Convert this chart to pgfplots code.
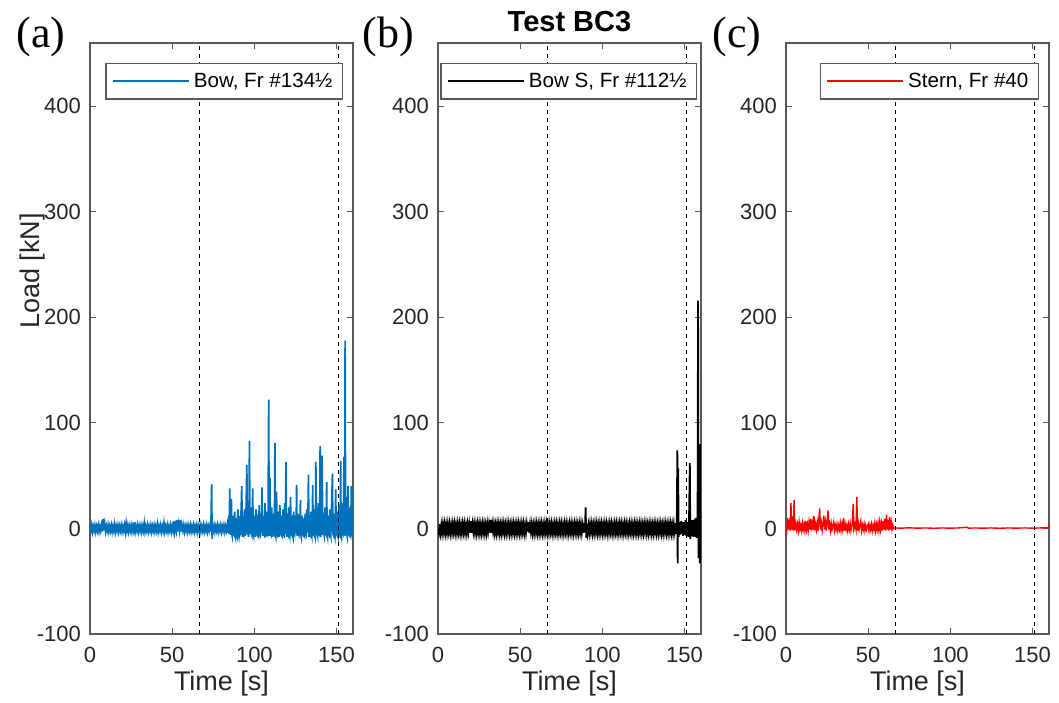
\documentclass[border=0pt]{standalone}
\usepackage{pgfplots}
\pgfplotsset{compat=1.18}
\usepackage{fontspec}
\setmainfont{Liberation Sans}
\newfontfamily\seriffont{Liberation Serif}
\definecolor{mblue}{RGB}{0,114,189}
\definecolor{axgray}{gray}{0.35}
\pgfplotsset{
  panel/.style={
    scale only axis, width=131.5pt, height=295.5pt,
    xmin=0, xmax=160, ymin=-100, ymax=460,
    xtick={0,50,100,150}, ytick={-100,0,100,200,300,400},
    tick align=inside, major tick length=3pt,
    axis line style={draw=axgray, line width=0.6pt},
    tick style={draw=axgray, line width=0.5pt},
    tick label style={font=\fontsize{11}{13}\selectfont, text=black!85},
    /pgf/number format/assume math mode=true,
    label style={font=\fontsize{13.5}{16}\selectfont, text=black!85},
    xlabel={Time [s]},
    xlabel style={at={(axis description cs:0.5,-0.083)}, anchor=center},
    yticklabel style={xshift=-1pt},
    xticklabel style={yshift=-3pt},
    legend style={at={(0.962,0.966)}, anchor=north east, draw=axgray, line width=0.6pt, fill=white,
      font=\fontsize{10.3}{12}\selectfont, inner xsep=3pt, inner ysep=2.5pt, legend cell align=left},
  },
  vdash/.style={draw=black, line width=0.6pt, dash pattern=on 2.2pt off 1.8pt, forget plot},
}
\begin{document}
\begin{tikzpicture}
\useasboundingbox (0,0) rectangle (529.5pt,351pt);
% ---------------- (a)
\begin{axis}[panel, name=A, at={(45pt,34pt)}, anchor=south west,
  legend image code/.code={\draw[draw=mblue, line width=0.9pt] (0pt,0pt) -- (38pt,0pt);},
  ylabel={Load [kN]},
  ylabel style={at={(axis description cs:-0.22,0.614)}, anchor=center}]
\addplot[mblue, line width=0.85pt] coordinates {
(0,1) (0.5,-2) (1,3) (1.5,-3) (2,2) (2.5,-2) (3,3) (3.5,-3) (4,2) (4.5,-2) (5,3) (5.5,-3)
(6,2) (6.5,-2) (7,3) (7.5,-3) (8,9) (8.5,-2) (9,4) (9.5,-3) (10,2) (10.5,-2) (11,3) (11.5,-3)
(12,2) (12.5,-2) (13,3) (13.5,-3) (14,2) (14.5,-2) (15,4) (15.5,-3) (16,2) (16.5,-2) (17,3) (17.5,-3)
(18,2) (18.5,-2) (19,3) (19.5,-3) (20,2) (20.5,-2) (21,3) (21.5,-3) (22,5) (22.5,-2) (23,3) (23.5,-3)
(24,2) (24.5,-2) (25,3) (25.5,-3) (26,2) (26.5,-2) (27,6) (27.5,-3) (28,2) (28.5,-2) (29,3) (29.5,-3)
(30,2) (30.5,-2) (31,3) (31.5,-3) (32,2) (32.5,-2) (33,5) (33.5,-3) (34,2) (34.5,-2) (35,3) (35.5,-3)
(36,2) (36.5,-2) (37,3) (37.5,-3) (38,2) (38.5,-2) (39,3) (39.5,-3) (40,2) (40.5,-2) (41,4) (41.5,-3)
(42,2) (42.5,-2) (43,3) (43.5,-3) (44,2) (44.5,-2) (45,5) (45.5,-3) (46,2) (46.5,-2) (47,3) (47.5,-3)
(48,2) (48.5,-2) (49,3) (49.5,-3) (50,2) (50.5,-2) (51,7) (51.5,-3) (52,3) (52.5,-2) (53,8) (53.5,-3)
(54,4) (54.5,-2) (55,8) (55.5,-3) (56,3) (56.5,-2) (57,3) (57.5,-3) (58,2) (58.5,-2) (59,3) (59.5,-3)
(60,2) (60.5,-2) (61,3) (61.5,-3) (62,2) (62.5,-2) (63,3) (63.5,-3) (64,2) (64.5,-2) (65,3) (65.5,-3)
(66,2) (66.5,-2) (67,3) (67.5,-3) (68,2) (68.5,-2) (69,3) (69.5,-3) (70,2) (70.5,-2) (71,3) (71.5,-3)
(72,2) (72.5,-2) (73,3) (73.5,-3) (74,42) (74.3,-10) (74.5,2) (75,-2) (75.5,3) (76,-3) (76.5,2) (77,-2)
(77.5,3) (78,-3) (78.5,2) (79,-2) (79.5,3) (80,-3) (80.5,2) (81,-2) (81.5,3) (82,-3) (82.5,2) (83,-2)
(83.5,3) (84,-4)
(84.25,8) (84.5,12) (84.75,-5) (85,38) (85.25,4) (85.5,-6) (85.75,10) (86,28) (86.25,-5) (86.5,-7) (86.75,8) (87,12)
(87.25,-4) (87.5,-5) (87.75,9) (88,16) (88.25,-6) (88.5,-8) (88.75,7) (89,10) (89.25,-4) (89.5,-6) (89.75,11) (90,18)
(90.25,-5) (90.5,-7) (90.75,9) (91,12) (91.25,-6) (91.5,-5) (91.75,10) (92,20) (92.3,40) (92.7,-8) (92.85,8) (93,10)
(93.25,-5) (93.5,-6) (93.75,12) (94,18) (94.25,-4) (94.5,-7) (94.75,10) (95,22) (95.4,60) (95.8,-6) (95.9,9) (96,14)
(96.25,-5) (96.5,-8) (96.75,12) (97,83) (97.3,-5) (97.6,10) (98,20) (98.25,-6) (98.5,-7) (98.75,11) (99,38) (99.25,-4)
(99.5,-6) (99.75,9) (100,12) (100.25,-5) (100.5,-8) (100.75,10) (101,18) (101.25,-4) (101.5,-5) (101.75,8) (102,10) (102.25,-6)
(102.5,-7) (102.75,12) (103,22) (103.25,-5) (103.5,-6) (103.75,10) (104,14) (104.3,-4) (104.6,39) (105,-7) (105.25,9) (105.5,12)
(105.75,-5) (106,-6) (106.25,11) (106.5,24) (106.75,-5) (107,-8) (107.25,10) (107.5,16) (107.75,-4) (108,-5) (108.35,12) (108.7,122)
(109,-7) (109.25,12) (109.5,48) (109.75,-5) (110,-6) (110.25,11) (110.5,20) (110.75,-5) (111,-8) (111.25,9) (111.5,14) (111.75,-4)
(112,-5) (112.25,12) (112.5,81) (112.75,-5) (113,-7) (113.25,14) (113.5,35) (113.75,-5) (114,-6) (114.25,10) (114.5,16) (114.75,-5)
(115,-8) (115.25,12) (115.5,22) (115.75,-4) (116,-5) (116.25,9) (116.5,12) (116.75,-6) (117,-7) (117.25,11) (117.5,18) (117.75,-5)
(118,-6) (118.25,12) (118.5,24) (118.85,-5) (119.2,63) (119.6,-8) (119.8,10) (120,14) (120.25,-5) (120.5,-6) (120.75,12) (121,20)
(121.25,-5) (121.5,-7) (121.75,11) (122,30) (122.25,-4) (122.5,-5) (122.75,9) (123,10) (123.25,-6) (123.5,-8) (123.75,10) (124,16)
(124.25,-5) (124.5,-6) (124.75,9) (125,12) (125.35,-4) (125.7,41) (126,-7) (126.25,10) (126.5,14) (126.75,-5) (127,-6) (127.25,8)
(127.5,10) (127.75,-4) (128,27) (128.25,-6) (128.5,-8) (128.75,9) (129,12) (129.25,-4) (129.5,-5) (129.75,7) (130,8) (130.25,-6)
(130.5,-7) (130.75,10) (131,14) (131.25,-5) (131.5,-6) (131.75,11) (132,18) (132.45,-4) (132.9,51) (133.2,-8) (133.35,9) (133.5,12)
(133.75,-5) (134,-6) (134.25,10) (134.5,16) (134.75,-5) (135,-7) (135.25,12) (135.5,41) (135.75,-4) (136,-5) (136.25,11) (136.5,18)
(136.75,-6) (137,-8) (137.2,10) (137.4,63) (137.8,-6) (137.9,9) (138,14) (138.25,-5) (138.5,-7) (138.75,12) (139,24) (139.25,-4)
(139.5,-5) (139.75,12) (140,78) (140.4,-8) (140.8,12) (141.2,69) (141.6,-6) (141.8,10) (142,14) (142.25,-5) (142.5,-7) (142.75,11)
(143,20) (143.25,-4) (143.5,-5) (143.75,12) (144,44) (144.25,-6) (144.5,-8) (144.75,9) (145,12) (145.25,-5) (145.5,-6) (145.75,10)
(146,18) (146.25,-5) (146.5,-7) (146.75,12) (147,24) (147.5,52) (147.75,-5) (148,-6) (148.25,10) (148.5,14) (148.75,-6) (149,-8)
(149.25,12) (149.5,37) (149.75,-4) (150,-5) (150.25,10) (150.5,16) (150.75,-5) (151,-7) (151.25,12) (151.5,22) (151.75,-5) (152,-6)
(152.25,12) (152.5,64) (152.75,-6) (153,-8) (153.25,11) (153.5,24) (153.75,-4) (154,-5) (154.25,14) (154.5,68) (154.75,-5) (155,-7)
(155.2,178) (155.5,-6) (155.75,12) (156,30) (156.25,-6) (156.5,-8) (156.75,12) (157,40) (157.25,-4) (157.5,-5) (157.75,10) (158,20)
(158.25,-6) (158.5,-7) (158.75,12) (159,40) (159.25,-5) (159.5,-6) (159.75,12) (160,38)
};
\addlegendentry{Bow, Fr \#134½}
\addplot[vdash] coordinates {(66.5,-100) (66.5,460)};
\addplot[vdash] coordinates {(151,-100) (151,460)};
\end{axis}
% ---------------- (b)
\begin{axis}[panel, name=B, at={(219pt,34pt)}, anchor=south west,
  legend style={at={(0.985,0.966)}},
  legend image code/.code={\draw[draw=black, line width=0.9pt] (0pt,0pt) -- (38pt,0pt);},
  title={Test BC3},
  title style={font=\bfseries\fontsize{14.5}{16}\selectfont, at={(axis description cs:0.5,1)}, anchor=base, yshift=0pt}]
\addplot[black, line width=0.9pt] coordinates {
(0,0) (0.5,-4) (1,4) (1.5,-4) (2,3) (2.5,-4) (3,4) (3.5,-3) (4,4) (4.5,-4) (5,3) (5.5,-4)
(6,4) (6.5,-3) (7,4) (7.5,-4) (8,3) (8.5,-4) (9,4) (9.5,-3) (10,4) (10.5,-4) (11,3) (11.5,-4)
(12,4) (12.5,-3) (13,4) (13.5,-4) (14,3) (14.5,-4) (15,4) (15.5,-3) (16,4) (16.5,-4) (17,3) (17.5,-4)
(18,4) (18.5,-3) (19,4) (19.5,-4) (20,7) (20.5,-4) (21,4) (21.5,-3) (22,4) (22.5,-4) (23,3) (23.5,-4)
(24,4) (24.5,-3) (25,4) (25.5,-4) (26,3) (26.5,-4) (27,4) (27.5,-3) (28,4) (28.5,-4) (29,3) (29.5,-4)
(30,4) (30.5,-3) (31,4) (31.5,-4) (32,8) (32.5,-4) (33,4) (33.5,-3) (34,4) (34.5,-4) (35,3) (35.5,-4)
(36,4) (36.5,-3) (37,4) (37.5,-4) (38,3) (38.5,-4) (39,4) (39.5,-3) (40,4) (40.5,-4) (41,3) (41.5,-4)
(42,4) (42.5,-3) (43,4) (43.5,-4) (44,3) (44.5,-4) (45,4) (45.5,-3) (46,4) (46.5,-4) (47,3) (47.5,-4)
(48,4) (48.5,-3) (49,4) (49.5,-4) (50,3) (50.5,-4) (51,4) (51.5,-3) (52,4) (52.5,-4) (53,3) (53.5,-4)
(54,4) (54.5,-3) (55,6) (55.5,-4) (56,4) (56.5,-3) (57,4) (57.5,-4) (58,3) (58.5,-4) (59,4) (59.5,-3)
(60,4) (60.5,-4) (61,3) (61.5,-4) (62,4) (62.5,-3) (63,4) (63.5,-4) (64,3) (64.5,-4) (65,4) (65.5,-3)
(66,4) (66.5,-4) (67,3) (67.5,-4) (68,4) (68.5,-3) (69,4) (69.5,-4) (70,3) (70.5,-4) (71,4) (71.5,-3)
(72,4) (72.5,-4) (73,3) (73.5,-4) (74,4) (74.5,-3) (75,4) (75.5,-4) (76,3) (76.5,-4) (77,4) (77.5,-3)
(78,4) (78.5,-4) (79,3) (79.5,-4) (80,4) (80.5,-3) (81,4) (81.5,-4) (82,3) (82.5,-4) (83,4) (83.5,-3)
(84,4) (84.5,-4) (85,3) (85.5,-4) (86,4) (86.5,-3) (87,4) (87.5,-4) (88,3) (88.5,-4) (89,5) (89.4,-4)
(89.8,20) (90.2,-9) (90.5,4) (91,-4) (91.5,3) (92,-4) (92.5,4) (93,-3) (93.5,4) (94,-4) (94.5,3) (95,-4)
(95.5,4) (96,-3) (96.5,4) (97,-4) (97.5,3) (98,-4) (98.5,4) (99,-3) (99.5,4) (100,-4) (100.5,3) (101,-4)
(101.5,4) (102,-3) (102.5,4) (103,-4) (103.5,3) (104,-4) (104.5,4) (105,-3) (105.5,4) (106,-4) (106.5,3) (107,-4)
(107.5,4) (108,-3) (108.5,4) (109,-4) (109.5,3) (110,-4) (110.5,4) (111,-3) (111.5,4) (112,-4) (112.5,3) (113,-4)
(113.5,4) (114,-3) (114.5,4) (115,-4) (115.5,3) (116,-4) (116.5,4) (117,-3) (117.5,4) (118,-4) (118.5,3) (119,-4)
(119.5,4) (120,-3) (120.5,4) (121,-4) (121.5,3) (122,-4) (122.5,4) (123,-3) (123.5,4) (124,-4) (124.5,3) (125,-4)
(125.5,4) (126,-3) (126.5,4) (127,-4) (127.5,3) (128,-4) (128.5,4) (129,-3) (129.5,4) (130,-4) (130.5,3) (131,-4)
(131.5,4) (132,-3) (132.5,4) (133,-4) (133.5,3) (134,-4) (134.5,4) (135,-3) (135.5,4) (136,-4) (136.5,3) (137,-4)
(137.5,4) (138,-3) (138.5,4) (139,-4) (139.5,3) (140,-4) (140.5,4) (141,-3) (141.5,4) (142,-4) (142.5,3) (143,-4)
(143.5,4) (144,-3) (144.5,5) (145,-5) (145.3,6) (145.6,74) (145.8,-33) (146.1,57) (146.4,-8) (146.7,6) (147,-6) (147.3,6)
(147.6,-5) (148,7) (148.3,-5) (148.6,6) (149,-7) (149.3,6) (149.6,-6) (150,5) (150.3,-6) (150.6,8) (151,-7) (151.3,6)
(151.6,-6) (152,6) (152.3,-8) (152.7,7) (153.2,62) (153.5,-10) (153.8,8) (154.1,-6) (154.4,8) (154.7,-7) (155,7) (155.3,-8)
(155.6,8) (156,-7) (156.3,9) (156.6,-8) (157,10) (157.3,-9) (157.6,10) (157.9,-8) (158.2,216) (158.5,-28) (158.8,12) (159,80)
(159.3,-33) (159.6,80) (159.8,-20) (160,-30)
};
\addlegendentry{Bow S, Fr \#112½}
\addplot[vdash] coordinates {(66.5,-100) (66.5,460)};
\addplot[vdash] coordinates {(151,-100) (151,460)};
\end{axis}
% ---------------- (c)
\begin{axis}[panel, name=C, at={(393pt,34pt)}, anchor=south west,
  legend image code/.code={\draw[draw=red, line width=0.9pt] (0pt,0pt) -- (38pt,0pt);}]
\addplot[red, line width=0.7pt] coordinates {
(0,2) (0.5,-2) (1,10) (1.5,-1) (2,5) (2.5,-2) (3,24) (3.5,-1) (4,6) (4.5,-2) (4.9,27) (5.3,-2)
(6,5) (6.5,-1) (7,4) (7.5,-2) (8,6) (8.5,-1) (9,3) (9.5,-2) (10,5) (10.5,-1) (11,4) (11.5,-2)
(12,7) (12.5,-1) (13,4) (13.5,-2) (14,6) (14.5,-1) (15,9) (15.5,-2) (16,5) (16.5,-1) (17,12) (17.5,-2)
(18,4) (18.5,-1) (19,6) (19.5,-2) (20.5,19) (21,-1) (21.5,5) (22,-2) (23,12) (23.5,-1) (24,6) (24.5,-2)
(25.6,17) (26,-1) (26.5,4) (27,-2) (27.5,5) (28,-1) (29,6) (29.5,-2) (30,3) (30.5,-1) (31,4) (31.5,-2)
(32,3) (32.5,-1) (33,5) (33.5,-2) (34,4) (34.5,-1) (35,10) (35.5,-2) (36,4) (36.5,-1) (37,3) (37.5,-2)
(38,4) (38.5,-1) (39,5) (39.5,-2) (40.2,3) (40.9,23) (41.3,-1) (42,4) (42.6,-1) (43.1,30) (43.5,-2) (44,5)
(44.5,-1) (45.5,7) (46,-2) (46.5,3) (47,-1) (47.5,4) (48,-2) (48.5,3) (49,-1) (50,4) (50.5,-2) (51,3)
(51.5,-1) (52,4) (52.5,-2) (53,3) (53.5,-1) (54,5) (54.5,-2) (55,4) (55.5,-1) (56,5) (56.5,-2) (57,6)
(57.5,-1) (58,5) (58.5,-2) (59,7) (59.5,-1) (60,9) (60.5,-2) (61.2,13) (61.6,-1) (62,8) (62.5,-2) (63,11)
(63.5,-1) (64,6) (64.5,-1) (65,3) (65.5,0) (66,0.5)
(70,0.3) (75,0.6) (80,0.3) (85,0.5) (90,0.2) (95,0.5) (100,0.3) (105,0.5) (110,1.2) (111,0.3)
(115,0.5) (120,0.3) (125,0.5) (130,0.2) (135,0.5) (140,0.3) (145,0.5) (150,0.3) (155,0.5) (159.5,0.5) (160,4)
};
\addlegendentry{Stern, Fr \#40}
\addplot[vdash] coordinates {(66.5,-100) (66.5,460)};
\addplot[vdash] coordinates {(151,-100) (151,460)};
\end{axis}
\node[font=\seriffont\fontsize{22}{24}\selectfont, anchor=center] at ([xshift=-24.5pt,yshift=3pt]A.north west) {(a)};
\node[font=\seriffont\fontsize{22}{24}\selectfont, anchor=center] at ([xshift=-25pt,yshift=3pt]B.north west) {(b)};
\node[font=\seriffont\fontsize{22}{24}\selectfont, anchor=center] at ([xshift=-24.5pt,yshift=3pt]C.north west) {(c)};
\end{tikzpicture}
\end{document}
